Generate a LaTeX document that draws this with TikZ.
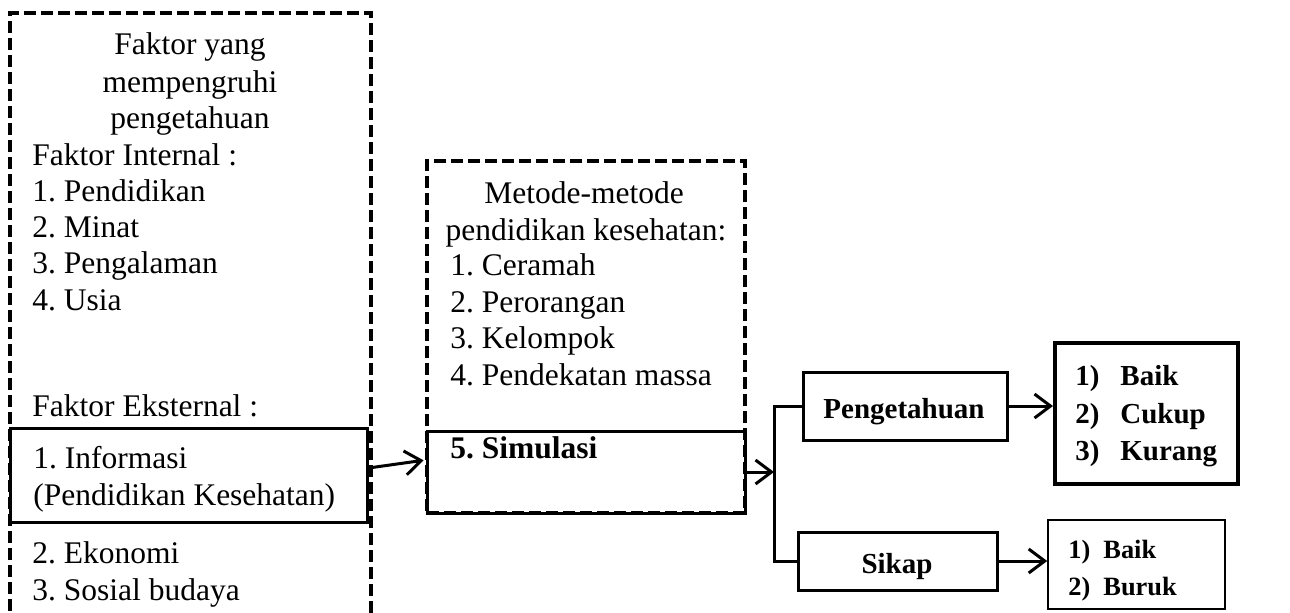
\documentclass[tikz,border=0pt]{standalone}
\usepackage{fontspec}
\setmainfont{Liberation Serif}
\usetikzlibrary{arrows.meta,fit}
\frenchspacing
\begin{document}
\frenchspacing
\begin{tikzpicture}[x=0.5pt,y=-0.5pt,
  txt/.style={inner sep=0pt,font=\fontsize{15.75}{18}\selectfont},
  btxt/.style={inner sep=0pt,font=\fontsize{14.5}{18}\selectfont\bfseries},
  stxt/.style={inner sep=0pt,font=\fontsize{13.2}{16}\selectfont\bfseries},
  dashframe/.style={draw,line width=2pt,dash pattern=on 6pt off 2.5pt,inner sep=0pt},
  solidbox/.style={draw,line width=1.5pt,inner sep=0pt},
  arr/.style={line width=1.5pt,-{Straight Barb[length=8pt,width=12pt,line width=1.5pt]}},
  conn/.style={line width=1.5pt}]
\useasboundingbox (0,0) rectangle (1290,612);
\begin{scope}
\clip (0,0) rectangle (1290,612);
\node[dashframe,fit={(10,13) (371,660)}] (lframe) {};
\node[solidbox,line width=0.8pt,fit={(1048,520) (1225,609)}] (res2) {};
\end{scope}
% left frame text
\node[txt,anchor=base] (l1) at (190,54) {Faktor yang};
\node[txt,anchor=base] (l2) at (190,92) {mempengruhi};
\node[txt,anchor=base] (l3) at (190,128) {pengetahuan};
\node[txt,anchor=base west] (l4) at (32,165) {Faktor Internal :};
\node[txt,anchor=base west] (l5) at (32,201) {1. Pendidikan};
\node[txt,anchor=base west] (l6) at (32,237) {2. Minat};
\node[txt,anchor=base west] (l7) at (32,273) {3. Pengalaman};
\node[txt,anchor=base west] (l8) at (32,310) {4. Usia};
\node[txt,anchor=base west] (l9) at (32,416) {Faktor Eksternal :};
\node[solidbox,fit={(10,428) (367,522)}] (info) {};
\node[txt,anchor=base west] (l10) at (33,468) {1. Informasi};
\node[txt,anchor=base west] (l11) at (33,505) {(Pendidikan Kesehatan)};
\node[txt,anchor=base west] (l12) at (32,563) {2. Ekonomi};
\node[txt,anchor=base west] (l13) at (32,600) {3. Sosial budaya};
% middle frame
\node[dashframe,fit={(427,161) (745,513)}] (mframe) {};
\node[solidbox,fit={(427,431) (745,513)}] (sim) {};
\node[txt,anchor=base] (m1) at (584,203) {Metode-metode};
\node[txt,anchor=base] (m2) at (586,240) {pendidikan kesehatan:};
\node[txt,anchor=base west] (m3) at (450,275) {1. Ceramah};
\node[txt,anchor=base west] (m4) at (450,312) {2. Perorangan};
\node[txt,anchor=base west] (m5) at (450,348) {3. Kelompok};
\node[txt,anchor=base west] (m6) at (450,385) {4. Pendekatan massa};
\node[txt,anchor=base west,font=\fontsize{15.75}{18}\selectfont\bfseries] (m7) at (450,458) {5. Simulasi};
% right part
\node[solidbox,fit={(803,372) (1007,440)}] (peng) {};
\node[btxt,anchor=base] (pt) at (904,418) {Pengetahuan};
\node[solidbox,fit={(798,532) (997,590)}] (sikap) {};
\node[btxt,anchor=base] (st) at (897,573) {Sikap};
\node[solidbox,line width=2pt,fit={(1055,343) (1238,484)}] (res1) {};
\node[btxt,anchor=base west] (r1a) at (1075,385) {1)};
\node[btxt,anchor=base west] (r1b) at (1120,385) {Baik};
\node[btxt,anchor=base west] (r2a) at (1075,423) {2)};
\node[btxt,anchor=base west] (r2b) at (1120,423) {Cukup};
\node[btxt,anchor=base west] (r3a) at (1075,460) {3)};
\node[btxt,anchor=base west] (r3b) at (1120,460) {Kurang};
\node[stxt,anchor=base west] (s1a) at (1068,558) {1)};
\node[stxt,anchor=base west] (s1b) at (1103,558) {Baik};
\node[stxt,anchor=base west] (s2a) at (1068,595) {2)};
\node[stxt,anchor=base west] (s2b) at (1103,595) {Buruk};
% connectors
\coordinate (jm) at (774,472);
\coordinate (jt) at (774,406);
\coordinate (jb) at (774,561);
\draw[arr,shorten >=1pt] ([yshift=3.5pt]info.east) -- ([yshift=6pt]sim.west);
\draw[arr] (sim.east) -- (jm);
\draw[conn] (peng.west) -- (jt) -- (jb) -- (sikap.west);
\draw[arr] (peng.east) -- (peng.east -| res1.west);
\draw[arr] (sikap.east) -- (sikap.east -| res2.west);
\end{tikzpicture}
\end{document}
